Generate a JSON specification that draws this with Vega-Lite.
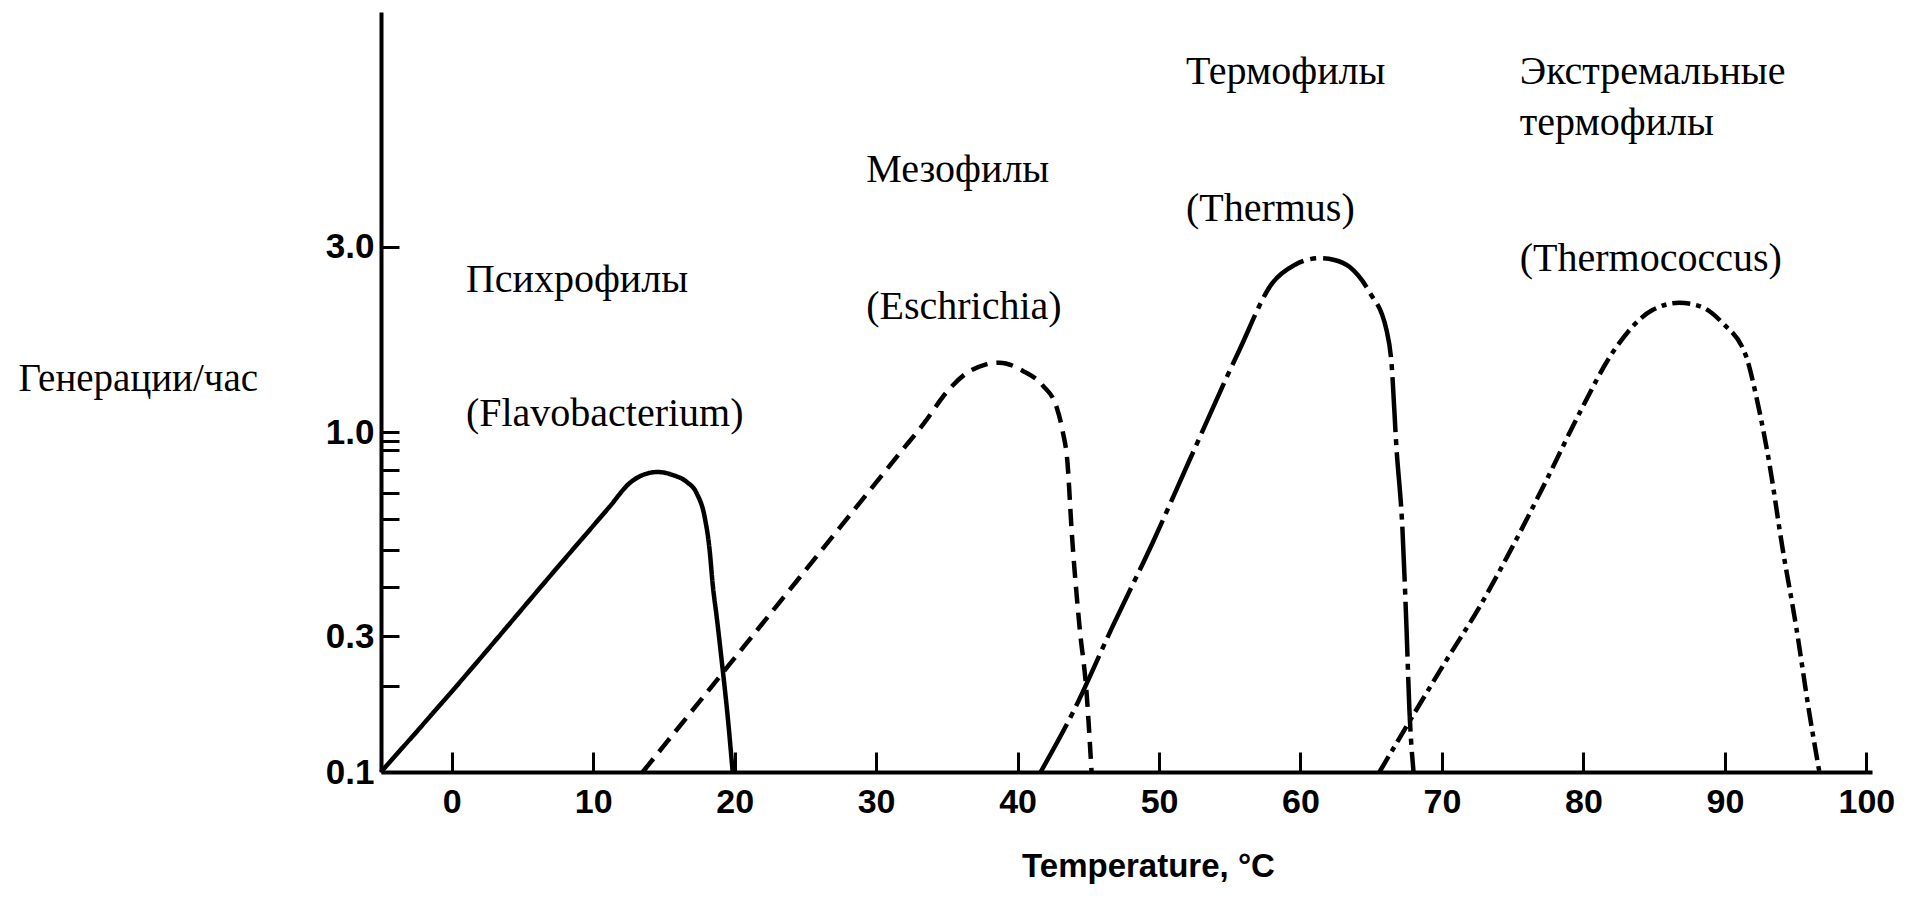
{
  "$schema": "https://vega.github.io/schema/vega-lite/v6.json",
  "autosize": {"type": "none"},
  "padding": {"left": 381, "top": 12, "right": 35, "bottom": 140},
  "width": 1491,
  "height": 760,
  "background": "white",
  "config": {"view": {"stroke": null}},
  "datasets": {
    "curves": [
      {"s": "P", "t": -5, "v": 0.1},
      {"s": "P", "t": -0.14, "v": 0.188},
      {"s": "P", "t": 7.63, "v": 0.457},
      {"s": "P", "t": 11.17, "v": 0.645},
      {"s": "P", "t": 12.58, "v": 0.741},
      {"s": "P", "t": 13.5, "v": 0.777},
      {"s": "P", "t": 14.56, "v": 0.791},
      {"s": "P", "t": 15.62, "v": 0.777},
      {"s": "P", "t": 16.61, "v": 0.746},
      {"s": "P", "t": 17.31, "v": 0.698},
      {"s": "P", "t": 17.88, "v": 0.606},
      {"s": "P", "t": 18.23, "v": 0.499},
      {"s": "P", "t": 18.45, "v": 0.406},
      {"s": "P", "t": 18.73, "v": 0.336},
      {"s": "P", "t": 19.08, "v": 0.247},
      {"s": "P", "t": 19.51, "v": 0.156},
      {"s": "P", "t": 19.86, "v": 0.1},
      {"s": "M", "t": 13.5, "v": 0.1},
      {"s": "M", "t": 17.53, "v": 0.177},
      {"s": "M", "t": 24.59, "v": 0.424},
      {"s": "M", "t": 31.66, "v": 0.883},
      {"s": "M", "t": 33.43, "v": 1.06},
      {"s": "M", "t": 35.0, "v": 1.27},
      {"s": "M", "t": 36.4, "v": 1.42},
      {"s": "M", "t": 37.67, "v": 1.49},
      {"s": "M", "t": 38.73, "v": 1.51},
      {"s": "M", "t": 40.35, "v": 1.44},
      {"s": "M", "t": 41.77, "v": 1.32},
      {"s": "M", "t": 42.76, "v": 1.16},
      {"s": "M", "t": 43.18, "v": 1.01},
      {"s": "M", "t": 43.53, "v": 0.834},
      {"s": "M", "t": 43.82, "v": 0.561},
      {"s": "M", "t": 44.38, "v": 0.317},
      {"s": "M", "t": 44.88, "v": 0.189},
      {"s": "M", "t": 45.23, "v": 0.1},
      {"s": "T", "t": 41.63, "v": 0.1},
      {"s": "T", "t": 43.89, "v": 0.161},
      {"s": "T", "t": 46.71, "v": 0.317},
      {"s": "T", "t": 49.54, "v": 0.52},
      {"s": "T", "t": 52.16, "v": 0.849},
      {"s": "T", "t": 55.69, "v": 1.63},
      {"s": "T", "t": 58.02, "v": 2.42},
      {"s": "T", "t": 59.58, "v": 2.69},
      {"s": "T", "t": 61.34, "v": 2.8},
      {"s": "T", "t": 62.4, "v": 2.77},
      {"s": "T", "t": 63.46, "v": 2.66},
      {"s": "T", "t": 64.88, "v": 2.29},
      {"s": "T", "t": 66.08, "v": 1.83},
      {"s": "T", "t": 66.43, "v": 1.51},
      {"s": "T", "t": 66.78, "v": 0.917},
      {"s": "T", "t": 67.21, "v": 0.561},
      {"s": "T", "t": 67.49, "v": 0.317},
      {"s": "T", "t": 67.7, "v": 0.165},
      {"s": "T", "t": 67.99, "v": 0.1},
      {"s": "E", "t": 65.58, "v": 0.1},
      {"s": "E", "t": 70.32, "v": 0.247},
      {"s": "E", "t": 72.65, "v": 0.356},
      {"s": "E", "t": 74.98, "v": 0.508},
      {"s": "E", "t": 77.39, "v": 0.754},
      {"s": "E", "t": 79.72, "v": 1.12},
      {"s": "E", "t": 82.05, "v": 1.6},
      {"s": "E", "t": 84.88, "v": 2.06},
      {"s": "E", "t": 86.78, "v": 2.15},
      {"s": "E", "t": 88.2, "v": 2.11},
      {"s": "E", "t": 89.82, "v": 1.91},
      {"s": "E", "t": 91.52, "v": 1.56},
      {"s": "E", "t": 92.23, "v": 1.23},
      {"s": "E", "t": 93.14, "v": 0.834},
      {"s": "E", "t": 94.06, "v": 0.508},
      {"s": "E", "t": 95.05, "v": 0.315},
      {"s": "E", "t": 95.97, "v": 0.161},
      {"s": "E", "t": 96.68, "v": 0.1}
    ],
    "notes": [
      {"t": 1.0, "v": 2.29, "label": "Психрофилы"},
      {"t": 1.0, "v": 1.04, "label": "(Flavobacterium)"},
      {"t": 29.3, "v": 4.38, "label": "Мезофилы"},
      {"t": 29.3, "v": 1.95, "label": "(Eschrichia)"},
      {"t": 51.9, "v": 7.85, "label": "Термофилы"},
      {"t": 51.9, "v": 3.48, "label": "(Thermus)"},
      {"t": 75.5, "v": 7.85, "label": "Экстремальные"},
      {"t": 75.5, "v": 5.81, "label": "термофилы"},
      {"t": 75.5, "v": 2.6, "label": "(Thermococcus)"}
    ]
  },
  "layer": [
    {
      "data": {"name": "curves"},
      "mark": {"type": "line", "color": "black", "strokeWidth": 4.5, "interpolate": "monotone", "clip": false},
      "encoding": {
        "x": {
          "field": "t", "type": "quantitative",
          "scale": {"domain": [-5, 100.4], "nice": false, "zero": false},
          "axis": {
            "values": [0, 10, 20, 30, 40, 50, 60, 70, 80, 90, 100],
            "grid": false,
            "domainColor": "black", "domainWidth": 4,
            "tickColor": "black", "tickWidth": 3, "tickSize": -20,
            "labelPadding": 33,
            "labelFont": "Liberation Sans", "labelFontWeight": "bold", "labelFontSize": 34, "labelColor": "black",
            "labelFlush": false, "labelOverlap": false,
            "title": "Temperature, °C",
            "titleFont": "Liberation Sans", "titleFontWeight": "bold", "titleFontSize": 33, "titleColor": "black",
            "titleX": 767, "titleY": 94, "titleAlign": "center", "titleBaseline": "middle"
          }
        },
        "y": {
          "field": "v", "type": "quantitative",
          "scale": {"type": "log", "domain": [0.1, 0.3, 12], "range": [760, 624, 0], "nice": false, "zero": false},
          "axis": {
            "values": [0.1, 0.2, 0.3, 0.4, 0.5, 0.6, 0.7, 0.8, 0.9, 0.95, 1, 3],
            "labelExpr": "indexof([0.1, 0.3, 1, 3], datum.value) >= 0 ? format(datum.value, '.1f') : ''",
            "grid": false,
            "domainColor": "black", "domainWidth": 4,
            "tickColor": "black", "tickWidth": 3, "tickSize": -18,
            "labelPadding": 25,
            "labelFont": "Liberation Sans", "labelFontWeight": "bold", "labelFontSize": 35, "labelColor": "black",
            "labelFlush": false, "labelOverlap": false, "labelBaseline": "middle",
            "title": "Генерации/час",
            "titleFont": "Liberation Serif", "titleFontWeight": "normal", "titleFontSize": 39, "titleColor": "black",
            "titleAngle": 0, "titleAlign": "left", "titleBaseline": "alphabetic",
            "titleX": -363, "titleY": 378
          }
        },
        "detail": {"field": "s"},
        "strokeDash": {
          "field": "s", "type": "nominal",
          "scale": {"domain": ["P", "M", "T", "E"], "range": [[1, 0], [17, 9], [55, 7, 6, 7], [18, 6, 5, 6]]},
          "legend": null
        }
      }
    },
    {
      "data": {"name": "notes"},
      "mark": {"type": "text", "font": "Liberation Serif", "fontSize": 40, "align": "left", "baseline": "alphabetic", "color": "black"},
      "encoding": {
        "x": {"field": "t", "type": "quantitative"},
        "y": {"field": "v", "type": "quantitative"},
        "text": {"field": "label"}
      }
    }
  ]
}
